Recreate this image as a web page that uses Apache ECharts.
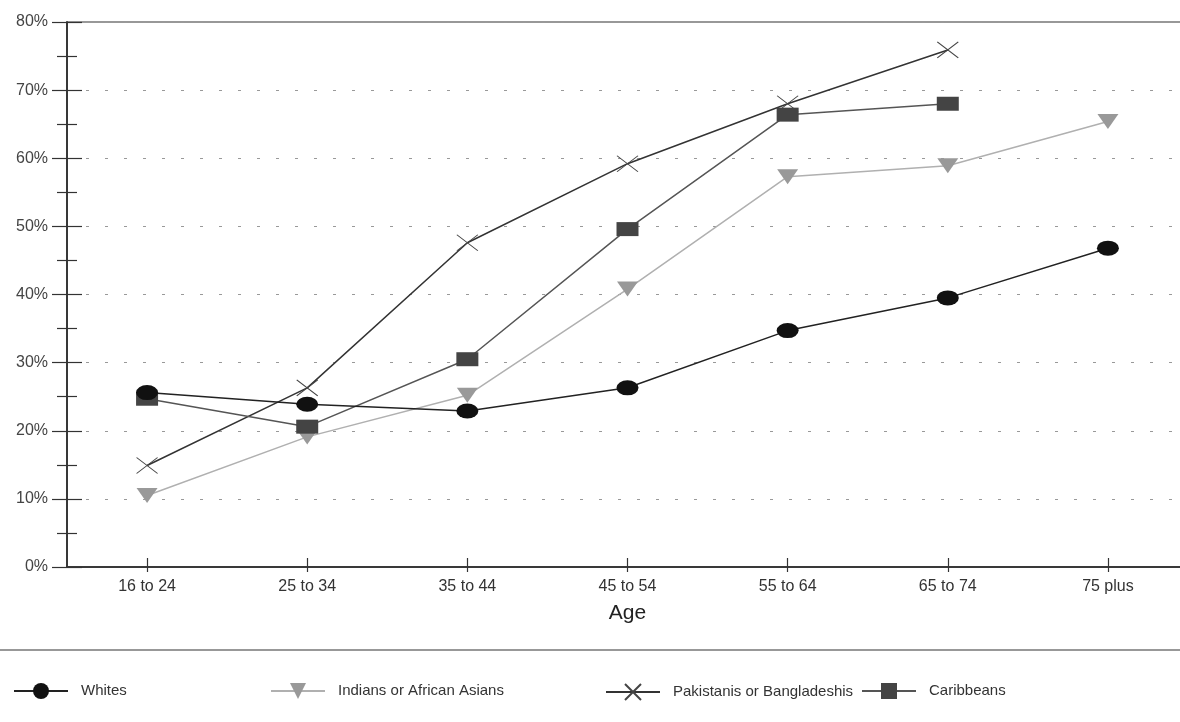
<!DOCTYPE html>
<html>
<head>
<meta charset="utf-8">
<script src="https://cdn.jsdelivr.net/npm/echarts@6/dist/echarts.min.js"></script>
<style>html,body{margin:0;padding:0;background:#fff}#c{width:1180px;height:722px}</style>
</head>
<body>
<div id="c"></div>
<script>
const categories = ['16 to 24', '25 to 34', '35 to 44', '45 to 54', '55 to 64', '65 to 74', '75 plus'];
const whites = [25.6, 23.9, 22.9, 26.3, 34.7, 39.5, 46.8];
const indians = [10.5, 19.1, 25.2, 40.8, 57.3, 58.9, 65.4];
const pakistanis = [14.9, 26.3, 47.6, 59.2, 68.0, 75.9, null];
const caribbeans = [24.7, 20.6, 30.5, 49.6, 66.4, 68.0, null];
const seriesNames = ['Whites', 'Indians or African Asians', 'Pakistanis or Bangladeshis', 'Caribbeans'];

const FONT = '"Liberation Sans", Arial, sans-serif';
const chart = echarts.init(document.getElementById('c'));

const yBase = {
  type: 'value', min: 0, max: 80, interval: 10, position: 'left',
  axisLine: { show: true, lineStyle: { color: '#333', width: 1.5 } },
  axisTick: { show: true, length: 15, lineStyle: { color: '#333', width: 1.2 } },
  minorTick: { show: true, splitNumber: 2, length: 10, lineStyle: { color: '#333', width: 1.2 } }
};
const xBase = {
  type: 'category', data: categories, boundaryGap: true, position: 'bottom',
  axisLine: { show: true, lineStyle: { color: '#333', width: 1.5 } },
  splitLine: { show: false }
};

const legendBase = (name, left) => ({
  data: [name], left: left, top: 678, itemWidth: 54, itemHeight: 20,
  textStyle: { fontFamily: FONT, fontSize: 15, color: '#333', padding: [0, 0, 0, 8] },
  selectedMode: false
});

chart.setOption({
  animation: false,
  backgroundColor: '#fff',
  grid: { left: 67, top: 22, right: -8, height: 545, outerBoundsMode: 'none', containLabel: false,
          show: true, borderColor: '#333', borderWidth: 1.2, backgroundColor: 'transparent' },
  xAxis: [
    Object.assign({}, xBase, {
      axisTick: { show: true, alignWithLabel: true, length: 5, lineStyle: { color: '#333', width: 1.2 } },
      axisLabel: { margin: 12, fontFamily: FONT, fontSize: 16, color: '#333' },
      name: 'Age', nameLocation: 'middle', nameGap: 36,
      nameTextStyle: { fontFamily: FONT, fontSize: 21, color: '#222' }
    }),
    Object.assign({}, xBase, {
      axisTick: { show: true, inside: true, alignWithLabel: true, length: 9, lineStyle: { color: '#333', width: 1.2 } },
      axisLabel: { show: false }
    })
  ],
  yAxis: [
    Object.assign({}, yBase, {
      axisLabel: { formatter: '{value}%', margin: 19, fontFamily: FONT, fontSize: 16, color: '#444' },
      splitLine: { show: true, lineStyle: { type: [3, 16], color: '#999', width: 1 } }
    }),
    Object.assign({}, yBase, {
      axisTick: Object.assign({}, yBase.axisTick, { inside: true }),
      axisLabel: { show: false },
      splitLine: { show: false }
    })
  ],
  legend: [
    legendBase(seriesNames[0], 8),
    legendBase(seriesNames[1], 265),
    legendBase(seriesNames[2], 600),
    legendBase(seriesNames[3], 856)
  ],
  graphic: [{
    type: 'line', shape: { x1: 0, y1: 650, x2: 1180, y2: 650 },
    style: { stroke: '#333', lineWidth: 1.2 }, silent: true
  }],
  series: [
    {
      name: seriesNames[0], type: 'line', data: whites, xAxisIndex: 0, yAxisIndex: 0,
      symbol: 'circle', symbolSize: [22, 15],
      lineStyle: { color: '#222', width: 1.5 }, itemStyle: { color: '#111' }, z: 5
    },
    {
      name: seriesNames[1], type: 'line', data: indians, xAxisIndex: 0, yAxisIndex: 0,
      symbol: 'triangle', symbolRotate: 180, symbolSize: [21, 15],
      lineStyle: { color: '#b0b0b0', width: 1.5 }, itemStyle: { color: '#999' }, z: 3
    },
    {
      name: seriesNames[2], type: 'line', data: pakistanis, xAxisIndex: 0, yAxisIndex: 0,
      symbol: 'path://M0,0L20,16M20,0L0,16', symbolSize: [21, 16],
      lineStyle: { color: '#333', width: 1.5 },
      itemStyle: { color: 'rgba(0,0,0,0)', borderColor: '#444', borderWidth: 1 }, z: 4
    },
    {
      name: seriesNames[3], type: 'line', data: caribbeans, xAxisIndex: 0, yAxisIndex: 0,
      symbol: 'rect', symbolSize: [22, 14],
      lineStyle: { color: '#555', width: 1.5 }, itemStyle: { color: '#444' }, z: 4
    }
  ]
});
</script>
</body>
</html>
